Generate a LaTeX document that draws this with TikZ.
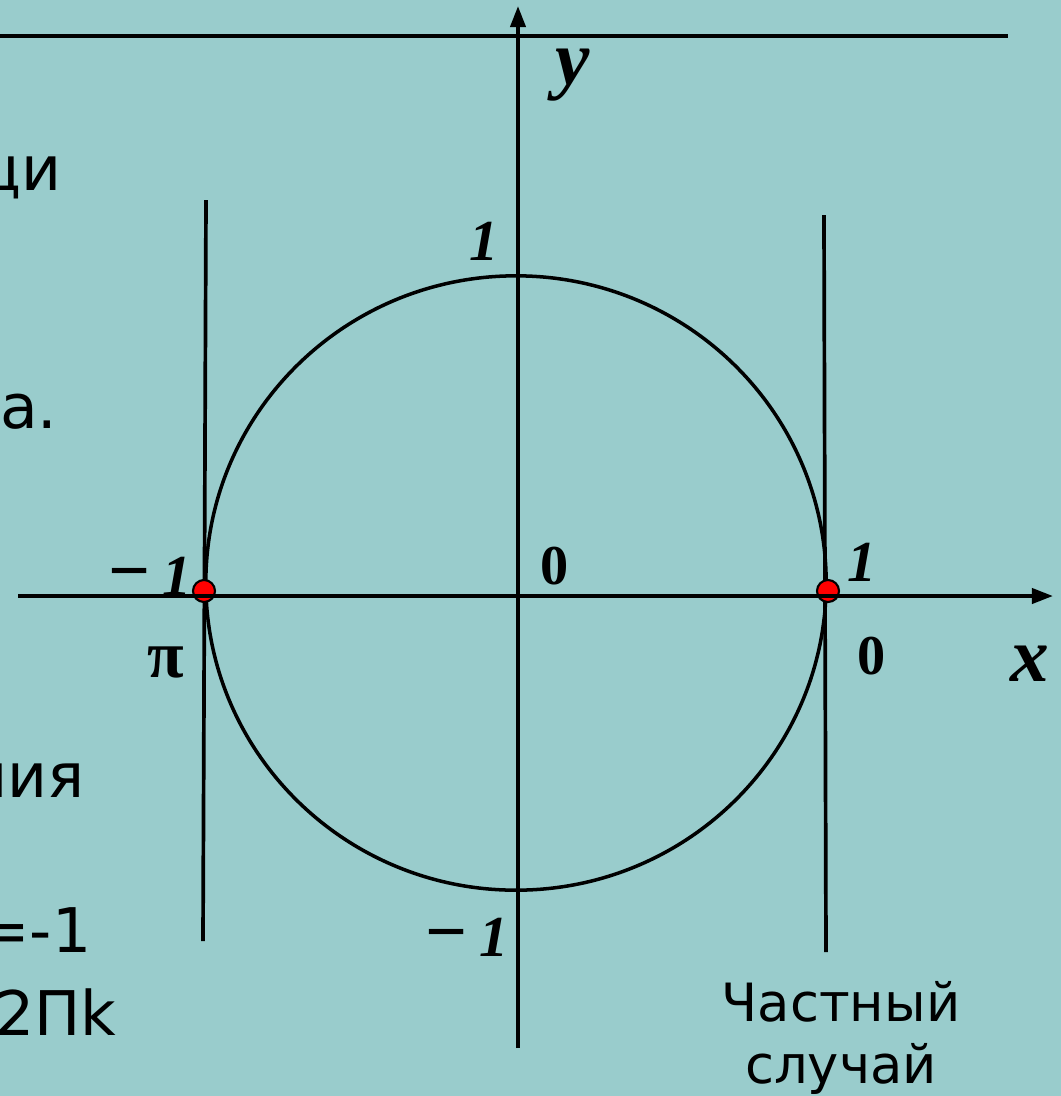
\documentclass[tikz,border=0pt]{standalone}
\usepackage{fontspec}
\usepackage{xcolor}
\usepackage{tikz}
\usetikzlibrary{positioning, arrows.meta}
\newfontfamily\rufont{DejaVu Sans}
\newfontfamily\axfont{Liberation Serif}
\definecolor{board}{HTML}{99CCCC}
\definecolor{ink}{HTML}{000000}
\definecolor{dotred}{HTML}{FF0000}
\newcommand{\mone}{{\upshape\fontsize{21}{21}\selectfont −}\hspace{0.12cm}1}
\tikzset{
  axisline/.style = {-{Triangle[length=2.1mm,width=1.5mm]}, line width=1.1pt, draw=ink},
  guide/.style    = {line width=1.05pt, draw=ink},
  unitcirc/.style = {line width=1pt, draw=ink},
  hit/.style      = {circle, draw=ink, line width=0.6pt, fill=dotred,
                     minimum size=0.22cm, inner sep=0pt},
  numlbl/.style   = {inner sep=0pt, text=ink,
                     font=\axfont\bfseries\itshape\fontsize{16.5}{18}\selectfont},
  zerolbl/.style  = {inner sep=0pt, text=ink,
                     font=\axfont\bfseries\fontsize{16}{18}\selectfont},
  axlbl/.style    = {inner sep=0pt, text=ink,
                     font=\axfont\bfseries\itshape\fontsize{22}{24}\selectfont},
  rutext/.style   = {inner sep=0pt, anchor=base east, text=ink,
                     font=\rufont\fontsize{17.5}{20}\selectfont},
  note/.style     = {inner sep=0pt, align=center, text=ink,
                     font=\rufont\fontsize{15}{17.6}\selectfont},
}

\begin{document}
\begin{tikzpicture}[x=0.01cm, y=-0.01cm]

  \useasboundingbox (0,0) rectangle (1061,1096);
  \fill[board] (0,0) rectangle (1061,1096);
  \clip (0,0) rectangle (1061,1096);

  % cut-off slide text on the left
  \node[rutext] (t1) at (62,190) {ци};
  \node[rutext] (t2) at (58,428) {а.};
  \node[rutext] (t3) at (85,797) {ния};
  \node[rutext] (t4) at (92,952) {=-1};
  \node[rutext] (t5) at (117,1035) {2Πk};

  \coordinate (rl) at (0,36);
  \coordinate (rr) at (1008,36);
  \draw[guide] (rl) -- (rr);

  % axes and unit circle
  \coordinate (O) at (518,596);
  \coordinate (xs) at (18,596);
  \coordinate (xe) at (1053,596);
  \coordinate (ys) at (518,1048);
  \coordinate (ye) at (518,6);

  \draw[unitcirc] (516,583) ellipse [x radius=3.10cm, y radius=3.07cm];

  \coordinate (lt) at (206,200);
  \coordinate (lb) at (203,941);
  \coordinate (rt) at (824,215);
  \coordinate (rb) at (826,952);
  \draw[guide] (lt) -- (lb);
  \draw[guide] (rt) -- (rb);

  \node[hit] (pA) at (204,591) {};
  \node[hit] (pB) at (828,591) {};

  \draw[axisline] (xs) -- (xe);
  \draw[axisline] (ys) -- (ye);

  % labels
  \node[axlbl] (ly) at (573,75) {y};
  \node[axlbl] (lx) at (1030,664) {x};
  \node[numlbl] (top1) at (484,241) {1};
  \node[zerolbl] (o1) at (555,566) {0};
  \node[numlbl] (r1) at (862,562) {1};
  \node[zerolbl] (r0) at (872,656) {0};
  \node[numlbl, anchor=base] (l1) at (150,595) {\mone};
  \node[zerolbl, font=\axfont\bfseries\fontsize{19}{20}\selectfont] (lpi) at (166,662) {π};
  \node[numlbl, anchor=base] (b1) at (467,956) {\mone};

  \node[note, anchor=north] (case) at (841,981) {Частный\\случай};

\end{tikzpicture}
\end{document}
